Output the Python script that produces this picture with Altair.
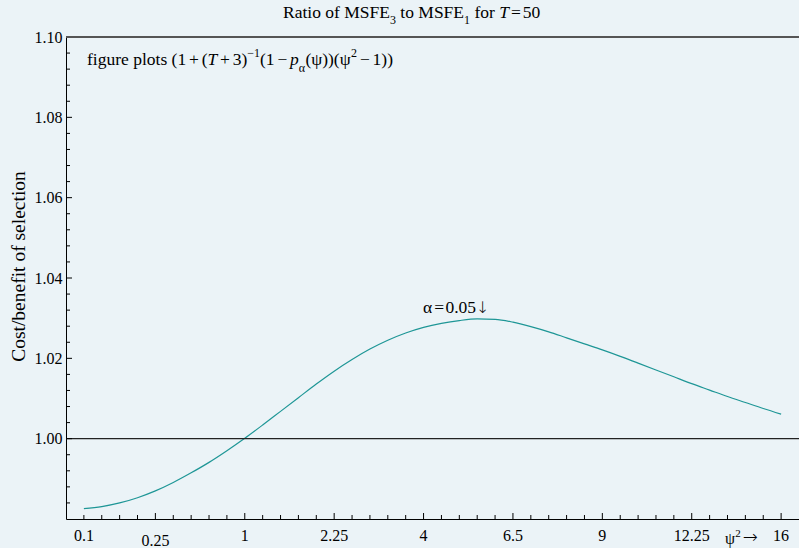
import altair as alt
import pandas as pd

# ---- data (x = psi, plotted against psi^2 labels) ----
psi = [0.1, 0.2, 0.3, 0.4, 0.5, 0.6, 0.7, 0.8, 0.9, 1.0,
       1.1, 1.2, 1.3, 1.4, 1.5, 1.6, 1.7, 1.8, 1.9, 2.0,
       2.1, 2.2, 2.3, 2.4, 2.5, 2.6, 2.7, 2.8, 2.9, 3.0,
       3.1, 3.2, 3.3, 3.4, 3.5, 3.6, 3.7, 3.8, 3.9, 4.0]
ratio = [0.9826, 0.9831, 0.9840, 0.9853, 0.9870, 0.9891, 0.9915, 0.9941, 0.9970, 1.0001,
         1.0034, 1.0068, 1.0102, 1.0136, 1.0168, 1.0197, 1.0223, 1.0245, 1.0263, 1.0277,
         1.0287, 1.0294, 1.0298, 1.0297, 1.0290, 1.0279, 1.0266, 1.0251, 1.0236, 1.0221,
         1.0205, 1.0188, 1.0171, 1.0154, 1.0137, 1.0121, 1.0105, 1.0090, 1.0075, 1.0061]

x_tick_pos = [0.1, 0.5, 1.0, 1.5, 2.0, 2.5, 3.0, 3.5, 4.0]
x_tick_labels = ["0.1", "0.25", "1", "2.25", "4", "6.5", "9", "12.25", "16"]
y_tick_values = [1.00, 1.02, 1.04, 1.06, 1.08, 1.10]

SERIF = "Liberation Serif"
ARROWF = "DejaVu Sans"
W, H = 733, 482
TEAL = "#1E9696"

xs = alt.Scale(domain=[0, 4.1], nice=False, zero=False)
ys = alt.Scale(domain=[0.98, 1.10], nice=False, zero=False)

X_AX = alt.Axis(labels=False, ticks=False, domain=True, domainColor="black",
                domainWidth=1, grid=False, title=None)
Y_AX = alt.Axis(values=y_tick_values, format=".2f", ticks=False,
                labelFont=SERIF, labelFontSize=16, labelColor="black",
                labelPadding=4, labelFlush=False, labelOverlap=False,
                domainColor="black", domainWidth=1, grid=False,
                title="Cost/benefit of selection", titleFont=SERIF,
                titleFontSize=19.5, titleFontWeight="normal", titleColor="black",
                titleX=-48, titleY=229, titleAngle=270,
                titleBaseline="middle", titleAlign="center")

df = pd.DataFrame({"psi": psi, "ratio": ratio})

line = alt.Chart(df).mark_line(color=TEAL, strokeWidth=1.2, interpolate="monotone").encode(
    x=alt.X("psi:Q", scale=xs, axis=X_AX),
    y=alt.Y("ratio:Q", scale=ys, axis=Y_AX),
)

# ---- inward ticks ----
x_major = [0.5 * i for i in range(1, 9)]
x_minor = [round(0.1 * i, 1) for i in range(1, 41) if i % 5]
y_major = [round(0.98 + 0.02 * i, 2) for i in range(1, 6)]
y_minor = [round(0.98 + 0.004 * i, 3) for i in range(1, 30) if i % 5]

def xticks(vals, length):
    return alt.Chart(pd.DataFrame({"psi": vals})).mark_rule(color="black", strokeWidth=1).encode(
        x=alt.X("psi:Q", scale=xs, axis=X_AX), y=alt.value(H), y2=alt.value(H - length))

def yticks(vals, length):
    return alt.Chart(pd.DataFrame({"ratio": vals})).mark_rule(color="black", strokeWidth=1).encode(
        y=alt.Y("ratio:Q", scale=ys, axis=Y_AX), x=alt.value(0), x2=alt.value(length))

hline = alt.Chart(pd.DataFrame({"ratio": [1.0]})).mark_rule(color="#222222", strokeWidth=1.2).encode(
    y=alt.Y("ratio:Q", scale=ys, axis=Y_AX))
topline = alt.Chart(pd.DataFrame({"ratio": [1.10]})).mark_rule(color="#555555", strokeWidth=1.8).encode(
    y=alt.Y("ratio:Q", scale=ys, axis=Y_AX))

# ---- x tick labels ----
lab_df = pd.DataFrame({"psi": x_tick_pos, "lab": x_tick_labels})
xlab_main = alt.Chart(lab_df).transform_filter("datum.lab != '0.25'").mark_text(
    font=SERIF, fontSize=16, baseline="alphabetic", color="black").encode(
    x=alt.X("psi:Q", scale=xs, axis=X_AX), y=alt.value(H + 22), text="lab:N")
xlab_low = alt.Chart(lab_df).transform_filter("datum.lab == '0.25'").mark_text(
    font=SERIF, fontSize=16, baseline="alphabetic", color="black").encode(
    x=alt.X("psi:Q", scale=xs, axis=X_AX), y=alt.value(H + 27), text="lab:N")

# ---- rich text helper (Times metrics) ----
TW = {' ': 250, '(': 333, ')': 333, '+': 564, '−': 564, '=': 564, '.': 250, '/': 278,
      'a': 444, 'b': 500, 'c': 444, 'e': 444, 'f': 333, 'g': 500, 'i': 278, 'l': 278,
      'n': 500, 'o': 500, 'p': 500, 'r': 333, 's': 389, 't': 278, 'u': 500,
      'M': 889, 'S': 556, 'F': 556, 'E': 611, 'R': 667, 'T': 611, 'ψ': 640, 'α': 550,
      '→': 838, '↓': 838}

def tw(s, size, style="normal"):
    if style == "italic" and s == "T":
        return 556 * size / 1000
    return sum(TW.get(c, 500) for c in s) * size / 1000

one = pd.DataFrame({"a": [0]})

def rich(pieces, x0, y0):
    layers = []
    x = x0
    for p in pieces:
        text = p["t"]
        size = p.get("s", 17.5)
        style = p.get("st", "normal")
        dy = p.get("dy", 0)
        gap = p.get("g", 0)
        font = p.get("f", SERIF)
        weight = p.get("w", "normal")
        lead = len(text) - len(text.lstrip(" "))
        xd = x + lead * 250 * size / 1000
        layers.append(alt.Chart(one).mark_text(
            text=text.strip(" "), align="left", baseline="alphabetic", font=font,
            fontSize=size, fontStyle=style, fontWeight=weight, color="black").encode(
            x=alt.value(xd), y=alt.value(y0 + dy)))
        x += tw(text, size, style) + gap
    return layers

SUB = 12
G = 2.8
title_layers = rich([
    {"t": "Ratio of MSFE"}, {"t": "3", "s": SUB, "dy": 6},
    {"t": " to MSFE"}, {"t": "1", "s": SUB, "dy": 6},
    {"t": " for "}, {"t": "T", "st": "italic", "g": 2}, {"t": "=", "g": 2},
    {"t": "50"},
], 217, -19)

note_layers = rich([
    {"t": "figure plots (1", "g": G}, {"t": "+", "g": G},
    {"t": "("}, {"t": "T", "st": "italic", "g": G}, {"t": "+", "g": G},
    {"t": "3)"},
    {"t": "−1", "s": SUB, "dy": -8}, {"t": "(1", "g": G}, {"t": "−", "g": G},
    {"t": "p", "st": "italic"},
    {"t": "α", "s": SUB, "dy": 7}, {"t": "(ψ))(ψ"}, {"t": "2", "s": SUB, "dy": -8, "g": G},
    {"t": "−", "g": G}, {"t": "1))"},
], 21, 28)

alpha_layers = rich([{"t": "α", "g": 1.5}, {"t": "=", "g": 1.5},
                     {"t": "0.05"}, {"t": "↓", "f": ARROWF, "s": 16, "w": 200}], 357, 276)

axis_name = rich([{"t": "ψ", "s": 16}, {"t": "2", "s": 11, "dy": -7, "g": 2},
                  {"t": "→", "s": 18, "f": ARROWF, "dy": -1, "w": 200}],
                 659, H + 25)

chart = alt.layer(
    line, hline, topline,
    xticks(x_major, 6), xticks(x_minor, 4), yticks(y_major, 6), yticks(y_minor, 4),
    xlab_main, xlab_low,
    *title_layers, *note_layers, *alpha_layers, *axis_name,
).properties(
    width=W, height=H, background="#EBF3F7",
    padding={"left": 66, "top": 37, "right": 0, "bottom": 29},
    autosize=alt.AutoSizeParams(type="none"),
).configure_view(stroke=None)

chart.save("out.html", embed_options={"renderer": "svg", "actions": False})
